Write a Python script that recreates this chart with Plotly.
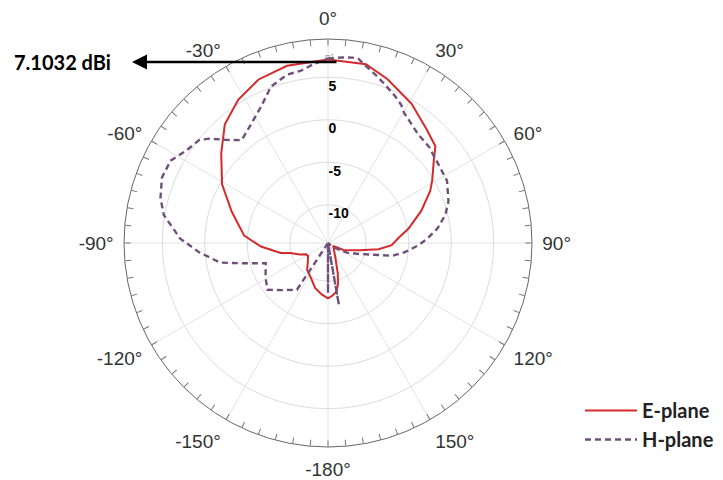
import plotly.graph_objects as go

# ---- data ----
e_theta = [0, 12, 20, 31, 41, 48, 52, 59, 63, 71, 80, 86, 92, 97, 103, 114, 120, 140, 152, 162,
           166, 170, 175, 180, 187, 196, 207, 218, 226, 237, 243, 248, 255, 258, 267, 275, 288,
           299, 310, 319, 328, 337, 347, 360]
e_gain = [7.1, 7.0, 6.0, 4.6, 3.2, 2.5, 1.3, -0.2, -1.0, -2.9, -4.9, -6.2, -7.0, -8.5, -10.7,
          -12.5, -13.8, -13.4, -12.7, -10.8, -9.6, -8.7, -8.3, -8.0, -8.4, -9.0, -10.0, -10.5,
          -11.2, -11.7, -11.6, -10.9, -9.9, -8.8, -6.6, -4.6, -2.6, -0.25, 1.9, 4.0, 5.4, 6.4,
          6.9, 7.1]

h_theta = [0, 4.5, 7.5, 9.5, 12, 15.6, 19.8, 24.5, 27.9, 30.5, 39.3, 46.5, 56, 62.4, 70.9, 76.5,
           82.4, 87.5, 91.6, 96.8, 101.3, 103.2, 109.3, 117, 130, 140, 165, 170, 175, 180, 185,
           205, 213.6, 224, 232.3, 241, 252, 256.9, 259.7, 265.9, 271.7, 279.7, 285, 291.5,
           297.6, 303.2, 308.6, 311.3, 315.2, 320, 327.4, 334, 340, 346.5, 350.9, 355.3, 360]
h_gain = [7.2, 7.4, 7.5, 7.45, 6.8, 6.1, 5.3, 4.5, 3.9, 3.2, 2.15, 1.9, 1.4, 1.3, 0.5, -0.3,
          -1.5, -2.8, -3.9, -5.4, -6.8, -8.3, -10.6, -12.0, -13.7, -14.5, -14.5, -7.1, -14.5,
          -8.6, -14.5, -14.5, -7.9, -6.8, -5.5, -6.1, -6.8, -4.0, -1.6, 0.7, 2.9, 5.1, 5.9, 6.5,
          6.4, 5.4, 4.9, 4.1, 2.6, 1.3, 2.2, 3.4, 5.1, 5.9, 6.0, 6.6, 7.2]

angle_ticks = list(range(0, 360, 30))
angle_labels = ["0°", "30°", "60°", "90°", "120°", "150°", "-180°",
                "-150°", "-120°", "-90°", "-60°", "-30°"]
minor_angle_ticks = list(range(0, 360, 5))
radial_ticks = [-10, -5, 0, 5]
radial_labels = ["-10", "-5", "0", "5"]
radial_range = [-14.5, 9.5]
peak_label = "7.1032 dBi"
series_names = ["E-plane", "H-plane"]

# ---- figure ----
W, H = 723, 480
OFF = 8  # page body margin
cx, cy, R = 328 - OFF, 243 - OFF, 204
dom_x = [(cx - R) / W, (cx + R) / W]
dom_y = [(H - cy - R) / H, (H - cy + R) / H]


def px(x):
    return (x - OFF) / W


def py(y):
    return 1 - (y - OFF) / H


fig = go.Figure()
fig.add_trace(go.Scatterpolar(
    r=e_gain, theta=e_theta, mode="lines", name=series_names[0],
    line=dict(color="#d42a2c", width=2), subplot="polar"))
fig.add_trace(go.Scatterpolar(
    r=h_gain, theta=h_theta, mode="lines", name=series_names[1],
    line=dict(color="#70507a", width=2.4, dash="6px,4px"), subplot="polar"))
# carrier for the minor-tick overlay
fig.add_trace(go.Scatterpolar(
    r=[radial_range[0]], theta=[0], mode="markers", marker=dict(opacity=0),
    showlegend=False, hoverinfo="skip", subplot="polar2"))

fig.update_layout(
    width=W, height=H,
    margin=dict(l=0, r=0, t=0, b=0),
    paper_bgcolor="white",
    polar=dict(
        domain=dict(x=dom_x, y=dom_y),
        bgcolor="white",
        angularaxis=dict(
            rotation=90, direction="clockwise",
            tickmode="array", tickvals=angle_ticks, ticktext=angle_labels,
            tickfont=dict(family="Liberation Sans, Arial", size=19, color="#333"),
            ticks="outside", ticklen=6, tickcolor="rgba(0,0,0,0)",
            showline=True, linecolor="#666", linewidth=1,
            showgrid=True, gridcolor="#e2e2e2", gridwidth=1,
        ),
        radialaxis=dict(
            range=radial_range, tickmode="array", tickvals=radial_ticks,
            ticktext=["<br>" + t for t in radial_labels],
            tickfont=dict(family="Liberation Sans, Arial", size=14, color="black",
                          weight="bold"),
            angle=90, tickangle=90, side="clockwise", showline=False, ticks="",
            showgrid=True, gridcolor="#dcdcdc", gridwidth=1,
        ),
    ),
    polar2=dict(
        domain=dict(x=dom_x, y=dom_y),
        bgcolor="rgba(0,0,0,0)",
        angularaxis=dict(
            rotation=90, direction="clockwise",
            tickmode="array", tickvals=minor_angle_ticks, showticklabels=False,
            ticks="inside", ticklen=6, tickcolor="#777",
            showline=False, showgrid=False,
        ),
        radialaxis=dict(range=radial_range, visible=False),
    ),
    legend=dict(
        x=px(580), y=py(391), xanchor="left", yanchor="top",
        font=dict(family="Lato, Open Sans", size=20, color="#222", weight="bold"),
        bgcolor="rgba(0,0,0,0)", tracegroupgap=2, itemwidth=52,
    ),
    showlegend=True,
)

# peak marker annotation (arrow from the peak to the label)
fig.add_annotation(
    x=px(132), y=py(62), xref="paper", yref="paper",
    ax=206, ay=0, axref="pixel", ayref="pixel",
    text="", showarrow=True, arrowhead=2, arrowsize=1.2, arrowwidth=2.5,
    arrowcolor="black",
)
fig.add_annotation(
    x=px(62), y=py(62), xref="paper", yref="paper", xanchor="center", yanchor="middle",
    text=peak_label, showarrow=False,
    font=dict(family="Lato, Open Sans", size=20, color="black", weight="bold"),
)
fig.add_annotation(
    x=px(329), y=py(50), xref="paper", yref="paper",
    text="m1", showarrow=False, font=dict(size=6, color="#777"),
)

fig.write_html("out.html")
